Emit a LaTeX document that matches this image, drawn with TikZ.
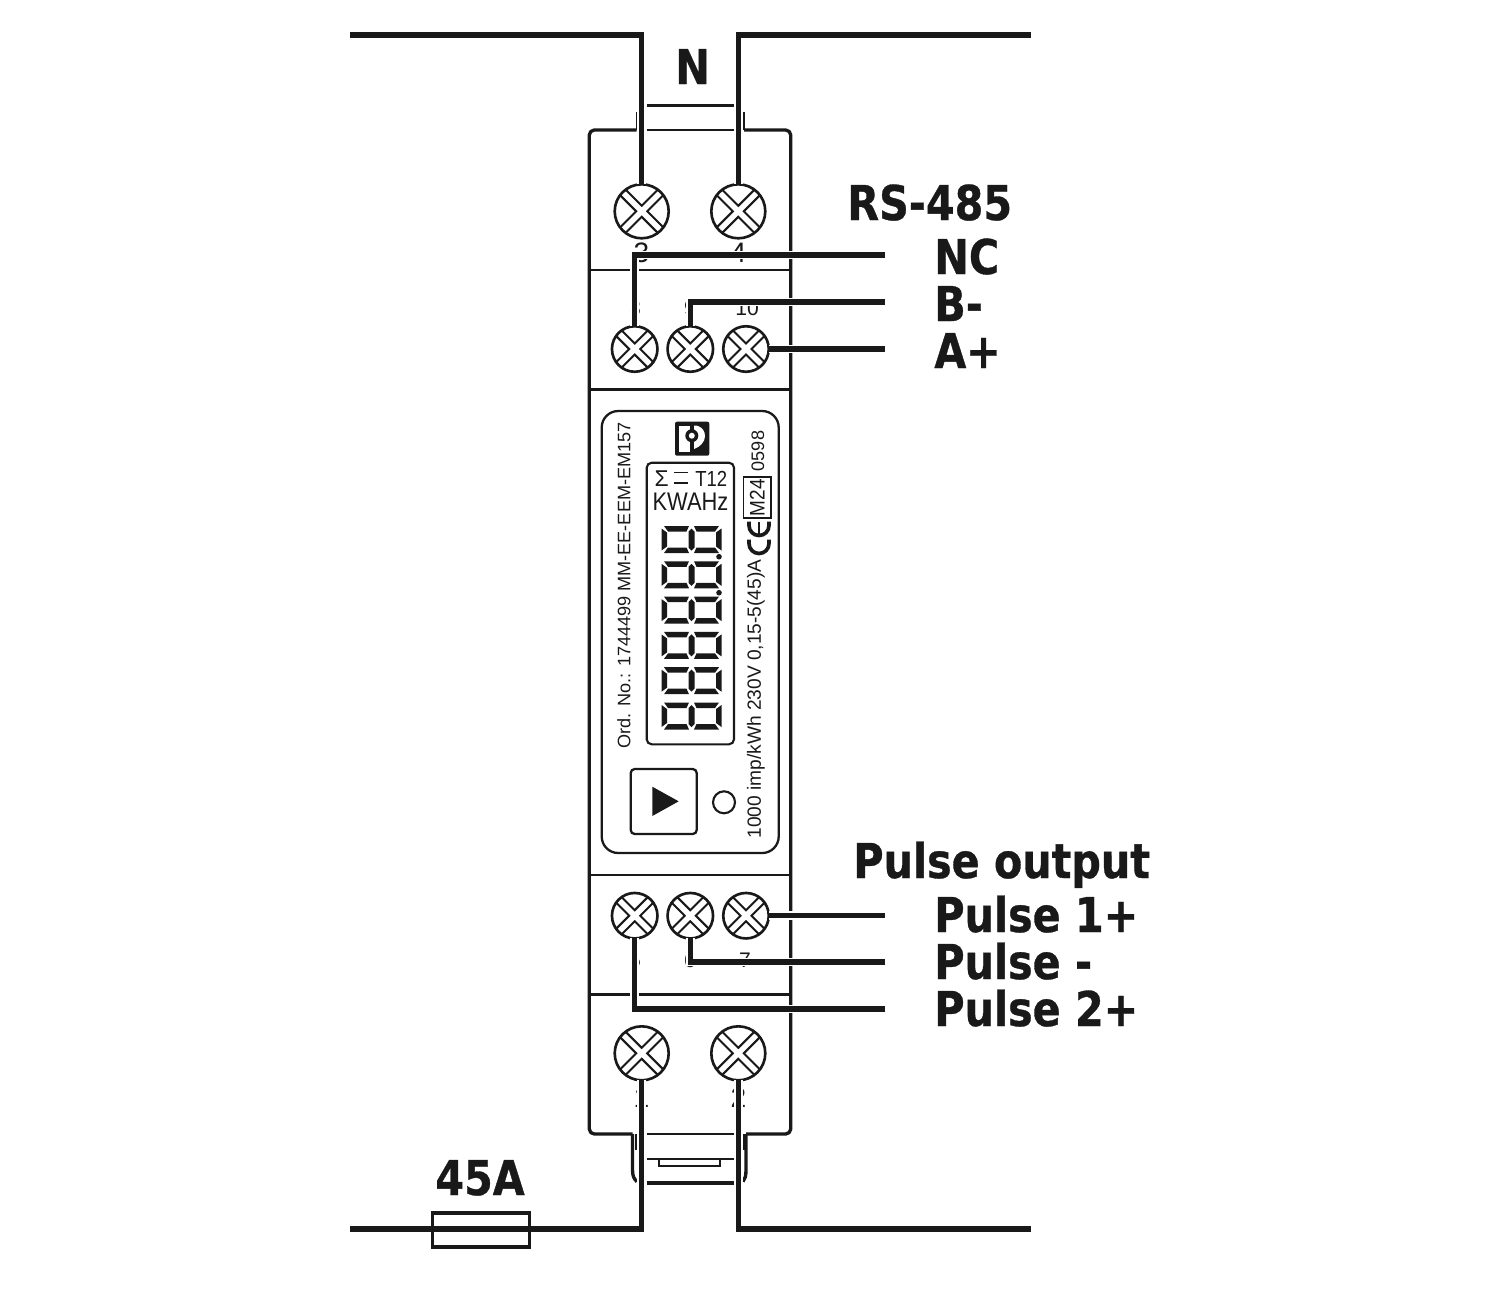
\documentclass[tikz,border=0pt]{standalone}
\usepackage{fontspec}
\setmainfont{Liberation Sans}
\newfontfamily\labelfont[FakeStretch=0.86,BoldFeatures={FakeBold=0.7}]{DejaVu Sans}
\usepackage{tikz}
\usetikzlibrary{calc}

\tikzset{
  thinline/.style={line width=1.2pt},
  frameline/.style={line width=1.9pt,line join=round},
  wire/.style={line width=2.9pt,line join=miter,preaction={draw=white,line width=5pt}},
  terminal/.style={circle,draw,line width=1.5pt,minimum size=#1,inner sep=0pt,outer sep=0pt,fill=white,
    path picture={
      \draw[line width=5.6pt] (path picture bounding box.north west) -- (path picture bounding box.south east)
        (path picture bounding box.north east) -- (path picture bounding box.south west);
      \draw[line width=3.1pt,white] (path picture bounding box.north west) -- (path picture bounding box.south east)
        (path picture bounding box.north east) -- (path picture bounding box.south west);
    }},
  bigterm/.style={terminal=1.08cm},
  smallterm/.style={terminal=0.91cm},
  bigtext/.style={font=\labelfont\bfseries\fontsize{27.3}{30}\selectfont,inner sep=0pt,anchor=base west},
  pinno/.style={font=\fontsize{12}{12}\selectfont,inner sep=0pt},
  pinnobig/.style={font=\fontsize{16}{16}\selectfont,inner sep=0pt},
  plate/.style={font=\fontsize{#1}{#1}\selectfont,inner sep=0pt,rotate=90},
  fusebox/.style={draw,line width=1.9pt,minimum width=1.94cm,minimum height=0.68cm,inner sep=0pt},
}

\begin{document}
\begin{tikzpicture}[x=0.02cm,y=-0.02cm,color=black!90]
\useasboundingbox (0,0) rectangle (1500,1289);

% housing
\draw [frameline,rounded corners=0.1cm] (636.7,130) -- (589.3,130) -- (589.3,1134) -- (632.5,1134);
\draw [frameline,rounded corners=0.1cm] (744,130) -- (790.7,130) -- (790.7,1134) -- (746,1134);
\draw [thinline] (636.7,112) -- (636.7,130);
\draw [thinline] (744,112) -- (744,130);
\draw [line width=2pt] (646.7,105.3) -- (734,105.3);
\draw [thinline] (646.7,130) -- (734,130);
\foreach \y in {270,389.3,875,994.3}
  \draw [line width=1.5pt] (589.3,\y) -- (790.7,\y);

% din rail clip
\draw [frameline] (632.5,1134) -- (632.5,1170) .. controls (632.5,1176) and (634,1179) .. (637,1181.7);
\draw [frameline] (746,1134) -- (746,1170) .. controls (746,1176) and (745,1179) .. (743,1181.7);
\draw [thinline] (636.5,1134) -- (636.5,1150);
\draw [thinline] (744,1134) -- (744,1150);
\draw [thinline] (646.7,1134) -- (734,1134);
\draw [thinline] (646.7,1159.3) -- (734,1159.3);
\draw [line width=0.9pt] (659,1159.3) -- (659,1166) -- (720,1166) -- (720,1159.3);
\draw [line width=2.2pt] (646.7,1183) -- (734,1183);

% front plate
\draw [line width=1.3pt,rounded corners=0.33cm] (601.7,411) rectangle (778.7,853);
\draw [line width=1.2pt,rounded corners=0.1cm] (646.7,462.7) rectangle (734,744.3);
\fill [rounded corners=0.04cm] (675,421.7) rectangle (709.3,455.7);
\fill [white] (679,425.7) rectangle (690,452.3);
\fill [white] (694,425.7) -- (697,425.7) .. controls (702,427) and (705,431) .. (705,436)
  .. controls (705,442) and (700,447) .. (694,449) -- cycle;
\fill (691.8,435.7) circle (6.5);
\fill [white] (691.8,435.7) circle (3);

\node [plate=10.3] (ordno) at (624,585.5) {Ord. No.: 1744499 MM-EE-EEM-EM157};
\node [plate=10.9] (rating) at (756,699) {1000 imp/kWh 230V 0,15-5(45)A};
\node [plate=10.3] (yearno) at (758,451) {0598};
\node [plate=12,draw,line width=1pt,minimum width=0.82cm,minimum height=0.55cm] (m24) at (757.2,497.8) {\scalebox{0.9}[1]{M24}};

% CE mark
\draw [line width=2.1pt] (749,539.5) -- (749,543.5) arc (180:0:10) -- (769,539.5);
\draw [line width=2.1pt] (749,521.7) -- (749,525.5) arc (180:0:10) -- (769,521.7);
\draw [line width=1.6pt] (759,522) -- (759,534.5);

% display
\node [font=\fontsize{13}{13}\selectfont,inner sep=0pt] (sumsign) at (661.7,478.5) {Σ};
\draw [line width=0.8pt] (674,472.3) -- (688,472.3);
\draw [line width=0.8pt] (674,483) -- (688,483);
\node [font=\fontsize{12.4}{13}\selectfont,inner sep=0pt] (tariff) at (711.2,478.5) {\scalebox{0.85}[1]{T12}};
\node [font=\fontsize{14.5}{15}\selectfont,inner sep=0pt] (units) at (690.5,502) {\scalebox{0.86}[1]{KWAHz}};

\foreach \y in {526,561.3,596.6,631.9,667.2,702.5} {
  \begin{scope}[shift={(661.5,\y)}]
    \fill (2.5,0) -- (27.5,0) -- (25,5.5) -- (6.5,5.5) -- cycle;
    \fill (32.5,0) -- (57.5,0) -- (53.5,5.5) -- (35,5.5) -- cycle;
    \fill (2.5,27) -- (27.5,27) -- (25,21.5) -- (6.5,21.5) -- cycle;
    \fill (32.5,27) -- (57.5,27) -- (53.5,21.5) -- (35,21.5) -- cycle;
    \fill (0,2.5) -- (5.5,6.5) -- (5.5,20.5) -- (0,24.5) -- cycle;
    \fill (60,2.5) -- (54.5,6.5) -- (54.5,20.5) -- (60,24.5) -- cycle;
    \fill (30,2.5) -- (33,5.5) -- (33,21.5) -- (30,24.5) -- (27,21.5) -- (27,5.5) -- cycle;
  \end{scope}
}
\fill (719,556.7) circle (2.8);
\fill (719,592.7) circle (2.8);

% button and led
\draw [line width=1.3pt,rounded corners=0.08cm] (630.7,769) rectangle (696.7,834);
\fill (652.3,786.7) -- (678.7,801.3) -- (652.3,816) -- cycle;
\node [circle,draw,line width=1.2pt,minimum size=0.44cm,inner sep=0pt] (led) at (724,802.3) {};

% pin numbers, wires run over them
\node [pinnobig] (p3) at (641.5,253) {3};
\node [pinnobig] (p4) at (738.5,253) {4};
\node [pinno] (p8) at (635,308) {8};
\node [pinno] (p9) at (690,308) {9};
\node [pinno] (p10) at (747,308) {10};
\node [pinno] (p5) at (635,960) {5};
\node [pinno] (p6) at (690,960) {6};
\node [pinno] (p7) at (745,960) {7};
\node [pinnobig] (p1) at (641.5,1098) {1};
\node [pinnobig] (p2) at (738.5,1098) {2};

% terminals
\node [bigterm] (t3) at (641.7,211.3) {};
\node [bigterm] (t4) at (738.3,211.3) {};
\node [smallterm] (t8) at (634.7,349) {};
\node [smallterm] (t9) at (690.3,349) {};
\node [smallterm] (t10) at (746,349) {};
\node [smallterm] (t5) at (634.7,915.7) {};
\node [smallterm] (t6) at (690.3,915.7) {};
\node [smallterm] (t7) at (746,915.7) {};
\node [bigterm] (t1) at (641.7,1053.3) {};
\node [bigterm] (t2) at (738.3,1053.3) {};

% free ends
\coordinate (nl) at (350,35);
\coordinate (nr) at (1031,35);
\coordinate (ll) at (350,1229);
\coordinate (lr) at (1031,1229);
\coordinate (nc) at (885,255);
\coordinate (bm) at (885,302);
\coordinate (ap) at (885,349);
\coordinate (po1) at (885,915.7);
\coordinate (pom) at (885,962);
\coordinate (po2) at (885,1009);

\draw [wire] (nl) -| (t3.north);
\draw [wire] (nr) -| (t4.north);
\draw [wire] (nc) -| (t8.north);
\draw [wire] (bm) -| (t9.north);
\draw [wire] (ap) -- (t10.east);
\draw [wire] (po1) -- (t7.east);
\draw [wire] (pom) -| (t6.south);
\draw [wire] (po2) -| (t5.south);
\draw [wire] (ll) -| (t1.south);
\draw [wire] (lr) -| (t2.south);

\node [fusebox] (fuse) at (481,1230) {};

% labels
\node [bigtext] (lN) at (675,84) {N};
\node [bigtext] (lrs) at (847,220) {RS-485};
\node [bigtext] (lnc) at (934,274) {NC};
\node [bigtext] (lb) at (934,321) {B-};
\node [bigtext] (la) at (934,368) {A+};
\node [bigtext] (lpo) at (853,878) {Pulse output};
\node [bigtext] (lp1) at (934,932) {Pulse 1+};
\node [bigtext] (lpm) at (934,979) {Pulse -};
\node [bigtext] (lp2) at (934,1026) {Pulse 2+};
\node [bigtext] (lfuse) at (435,1195) {45A};
\end{tikzpicture}
\end{document}
